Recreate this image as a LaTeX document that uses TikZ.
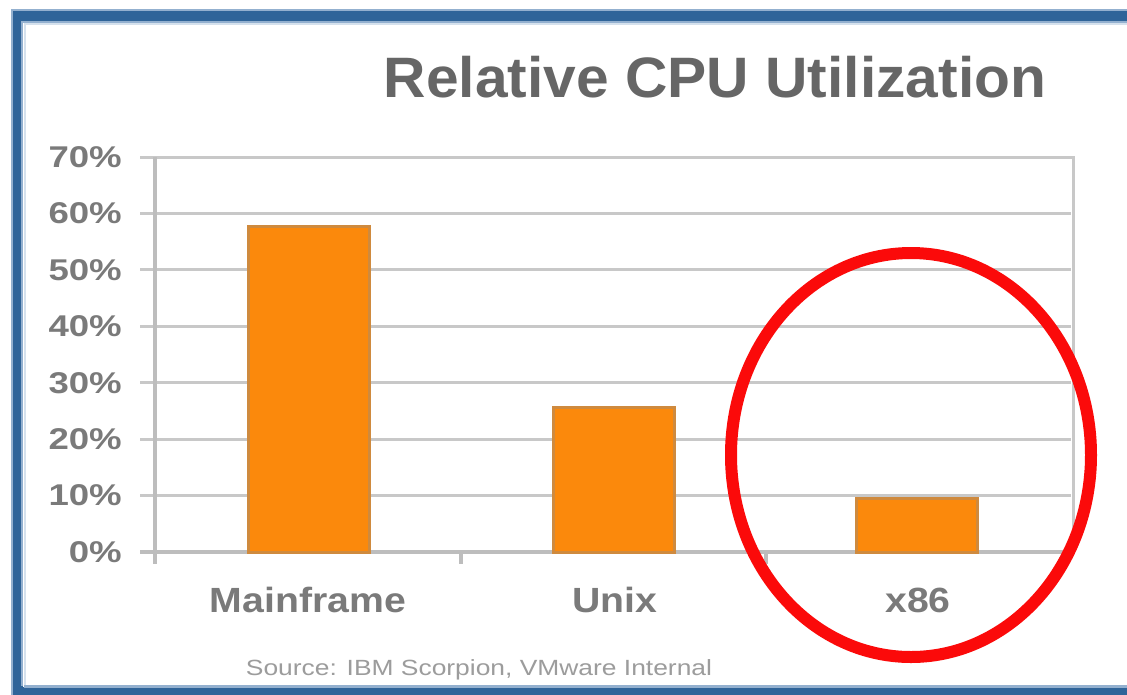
\documentclass[tikz,border=0pt]{standalone}
\usepackage{fontspec}
\setmainfont{Liberation Sans}
\definecolor{frameblue}{HTML}{2F6499}
\definecolor{framelight}{HTML}{93B0CF}
\definecolor{frameinner}{HTML}{D5E1ED}
\definecolor{gridgray}{HTML}{C8C8C8}
\definecolor{axisgray}{HTML}{BDBDBD}
\definecolor{barfill}{HTML}{FB890C}
\definecolor{baredge}{HTML}{CF8A3E}
\definecolor{titlegray}{HTML}{666666}
\definecolor{labelgray}{HTML}{7A7A7A}
\definecolor{srcgray}{HTML}{9C9C9C}
\definecolor{ringred}{HTML}{FB0A0A}
\tikzset{
  grid line/.style={draw=gridgray, line width=3pt},
  axis line/.style={draw=axisgray, line width=4pt},
  bar/.style={fill=barfill, draw=baredge, line width=3pt},
  ylab/.style={font=\bfseries\fontsize{30}{30}\selectfont, text=labelgray, anchor=east, inner sep=0pt, xscale=1.22},
  catlab/.style={font=\bfseries\fontsize{35}{35}\selectfont, text=labelgray, anchor=base, inner sep=0pt, xscale=1.12},
}
\begin{document}
\begin{tikzpicture}[x=1pt,y=-1pt]
\useasboundingbox (0,0) rectangle (1127,694);
\fill[white] (0,0) rectangle (1127,694);
% frame
\draw[frameblue, line width=10pt] (17.5,1200) -- (17.5,15.5) -- (1200,15.5);
\draw[frameblue, line width=10pt] (12,692) -- (1200,692);
\draw[framelight, line width=2pt] (12,700) -- (12,10) -- (1200,10);
\draw[framelight, line width=3pt] (23.5,686) -- (1200,686);
\draw[framelight, line width=2pt] (22,686) -- (22,21.5) -- (1200,21.5);
\draw[frameinner, line width=2pt] (24.5,685) -- (24.5,23.5) -- (1200,23.5);
% grid
\foreach \k in {1,...,6} {
  \draw[grid line] (140,{552-56.43*\k}) -- (1071,{552-56.43*\k});
}
\draw[grid line] (140,157) -- (1073,157) -- (1073,552);
\draw[axis line] (155,157) -- (155,564);
\draw[axis line] (140,552) -- (1071,552);
\draw[axis line] (461,552) -- (461,564);
\draw[axis line] (766,552) -- (766,564);
% y labels
\node[ylab] (y0) at (122,552) {0\%};
\foreach \k in {1,...,7} {
  \node[ylab] (y\k) at (122,{552-56.43*\k}) {\k0\%};
}
% bars
\draw[bar] (248.5,552) rectangle (369.5,226.5);
\draw[bar] (553.5,552) rectangle (674.5,407.5);
\draw[bar] (856.5,552) rectangle (977.5,498.5);
% category labels
\node[catlab] (mf) at (308,612) {Mainframe};
\node[catlab] (ux) at (615,612) {Unix};
\node[catlab] (x86) at (918,612) {x86};
% title
\node[font=\bfseries\fontsize{57}{57}\selectfont, text=titlegray, anchor=base, inner sep=0pt, xscale=1.03] (title) at (715,97) {Relative CPU Utilization};
% source
\node[font=\fontsize{22}{22}\selectfont, text=srcgray, anchor=base, inner sep=0pt, xscale=1.2] (src) at (479,675) {Source: IBM Scorpion, VMware Internal};
% red ring
\draw[ringred, line width=12pt] (911,455) ellipse [x radius=180, y radius=202];
\end{tikzpicture}
\end{document}
